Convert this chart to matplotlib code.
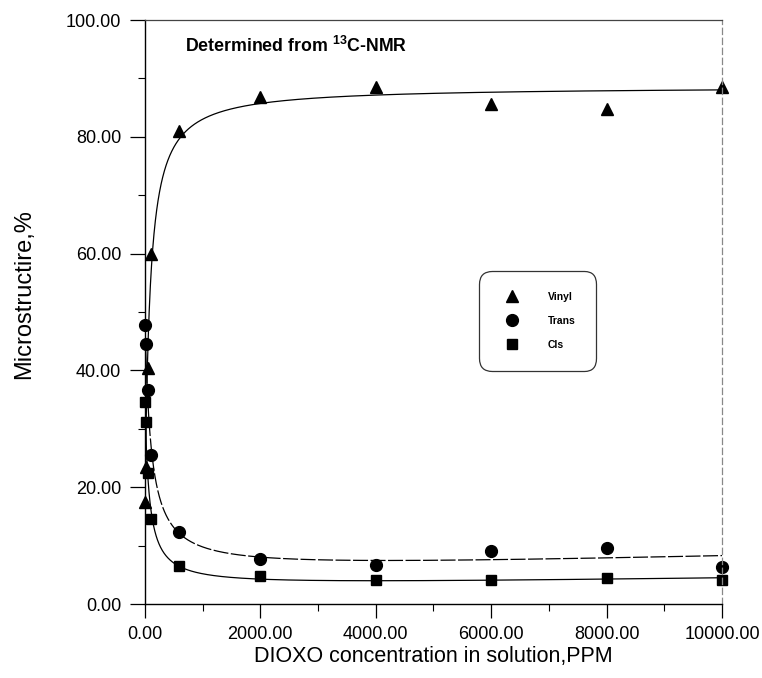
import numpy as np
import matplotlib
matplotlib.use("Agg")
import matplotlib.pyplot as plt
from matplotlib.ticker import MultipleLocator, FormatStrFormatter

# Concentração de DIOXO (PPM) - mesmos pontos para as três séries
ppm = [0, 20, 50, 100, 600, 2000, 4000, 6000, 8000, 10000]

# Microestrutura (%)
vinyl = [17.5, 23.5, 40.5, 60.0, 81.0, 86.9, 88.6, 85.7, 84.7, 88.5]
trans = [47.7, 44.6, 36.6, 25.5, 12.3, 7.7, 6.7, 9.1, 9.65, 6.4]
cis = [34.6, 31.2, 22.5, 14.5, 6.5, 4.85, 4.1, 4.1, 4.5, 4.2]

legend_labels = ["Vinyl", "Trans", "Cls"]

plt.rcParams['font.family'] = ['Liberation Sans', 'DejaVu Sans']
plt.rcParams['mathtext.default'] = 'regular'


def ajuste(x, y, xs, linear=True):
    # ajuste y = a + b*x/(k+x) (+ c*x) ; k por busca em grade, resto por mínimos quadrados
    x = np.asarray(x, dtype=float)
    y = np.asarray(y, dtype=float)

    def base(v, k):
        cols = [np.ones_like(v), v / (k + v)]
        if linear:
            cols.append(v / 1e4)
        return np.column_stack(cols)

    melhor = None
    for k in np.logspace(0.5, 3.5, 300):
        coef = np.linalg.lstsq(base(x, k), y, rcond=None)[0]
        erro = np.sum((base(x, k) @ coef - y) ** 2)
        if melhor is None or erro < melhor[0]:
            melhor = (erro, k, coef)
    _, k, coef = melhor
    return base(xs, k) @ coef


fig = plt.figure(figsize=(7.62, 6.78), dpi=100)
ax = fig.add_axes([0.190, 0.109, 0.7575, 0.8615])

xs = np.linspace(0, 10000, 3000)
ax.plot(xs, ajuste(ppm, vinyl, xs, linear=False), color='black', lw=0.9)
ax.plot(xs, ajuste(ppm, trans, xs), color='black', lw=0.9, linestyle=(0, (12, 2)))
ax.plot(xs, ajuste(ppm, cis, xs), color='black', lw=0.9)

ax.plot(ppm, vinyl, '^', color='black', ms=8, clip_on=False, label=legend_labels[0])
ax.plot(ppm, trans, 'o', color='black', ms=8.5, clip_on=False, label=legend_labels[1])
ax.plot(ppm, cis, 's', color='black', ms=7.5, clip_on=False, label=legend_labels[2])

ax.set_xlim(0, 10000)
ax.set_ylim(0, 100)
ax.xaxis.set_major_locator(MultipleLocator(2000))
ax.xaxis.set_minor_locator(MultipleLocator(1000))
ax.yaxis.set_major_locator(MultipleLocator(20))
ax.yaxis.set_minor_locator(MultipleLocator(10))
ax.xaxis.set_major_formatter(FormatStrFormatter('%.2f'))
ax.yaxis.set_major_formatter(FormatStrFormatter('%.2f'))

ax.tick_params(axis='both', which='major', direction='out', length=10, width=0.9,
               labelsize=13, pad=6, colors='black')
ax.tick_params(axis='y', which='major', length=11)
ax.tick_params(axis='both', which='minor', direction='out', length=5, width=0.8)
ax.tick_params(top=False, right=False)

ax.spines['left'].set_linewidth(1.0)
ax.spines['bottom'].set_linewidth(1.0)
ax.spines['top'].set_linewidth(0.9)
ax.spines['top'].set_color('#444444')
ax.spines['right'].set_linestyle((0, (5, 3)))
ax.spines['right'].set_color('#888888')
ax.spines['right'].set_linewidth(0.9)

ax.set_xlabel("DIOXO concentration in solution,PPM", fontsize=15.5, labelpad=2)
ax.set_ylabel("Microstructire,%", fontsize=17)
ax.yaxis.set_label_coords(-0.19, 0.53)

ax.text(0.07, 0.972, "Determined from $^{13}$C-NMR", transform=ax.transAxes,
        fontsize=12.8, fontweight='bold', va='top', ha='left')

leg = ax.legend(loc='upper left', bbox_to_anchor=(0.570, 0.579), frameon=True,
                fancybox=True, prop={'size': 7.5, 'weight': 'bold'},
                handletextpad=2.2, labelspacing=1.35, borderpad=2.0,
                handlelength=2.4, markerscale=1.0, edgecolor='black')
leg.get_frame().set_linewidth(0.9)
leg.get_frame().set_boxstyle('round', pad=0, rounding_size=1.2)

fig.savefig("out.png", dpi=100)
